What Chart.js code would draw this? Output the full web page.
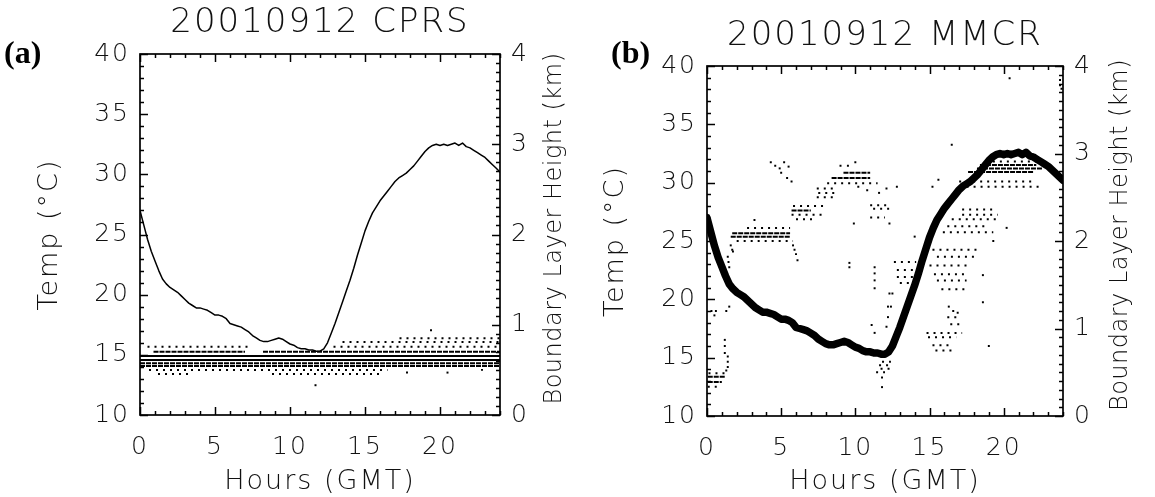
<!DOCTYPE html>
<html>
<head>
<meta charset="utf-8">
<script src="https://cdn.jsdelivr.net/npm/chart.js@4.4.1/dist/chart.umd.min.js"></script>
<style>
  html, body { margin: 0; padding: 0; background: #fff; }
  #wrap { position: relative; width: 1155px; height: 497px; }
  .pane { position: absolute; top: 0; height: 497px; }
</style>
</head>
<body>
<div id="wrap">
  <div class="pane" style="left:0;width:577px"><canvas id="cprs" width="577" height="497"></canvas></div>
  <div class="pane" style="left:577px;width:578px"><canvas id="mmcr" width="578" height="497"></canvas></div>
</div>
<script>
// surface temperature, read every 15 minutes
var hours = [0, 0.25, 0.5, 0.75, 1, 1.25, 1.5, 1.75, 2, 2.25, 2.5, 2.75, 3, 3.25, 3.5, 3.75,
  4, 4.25, 4.5, 4.75, 5, 5.25, 5.5, 5.75, 6, 6.25, 6.5, 6.75, 7, 7.25, 7.5, 7.75,
  8, 8.25, 8.5, 8.75, 9, 9.25, 9.5, 9.75, 10, 10.25, 10.5, 10.75, 11, 11.25, 11.5, 11.75,
  12, 12.25, 12.5, 12.75, 13, 13.25, 13.5, 13.75, 14, 14.25, 14.5, 14.75, 15, 15.25, 15.5, 15.75,
  16, 16.25, 16.5, 16.75, 17, 17.25, 17.5, 17.75, 18, 18.25, 18.5, 18.75, 19, 19.25, 19.5, 19.75,
  20, 20.25, 20.5, 20.75, 21, 21.25, 21.5, 21.75, 22, 22.25, 22.5, 22.75, 23, 23.25, 23.5, 23.75, 24];
var tempC = [27.0, 25.8, 24.6, 23.6, 22.8, 22.0, 21.3, 20.9, 20.6, 20.4, 20.2, 19.9, 19.6, 19.3, 19.1, 18.9,
  18.9, 18.8, 18.7, 18.5, 18.3, 18.3, 18.2, 18.0, 17.6, 17.5, 17.4, 17.3, 17.1, 16.9, 16.6, 16.4,
  16.2, 16.1, 16.1, 16.2, 16.3, 16.4, 16.3, 16.1, 15.9, 15.8, 15.6, 15.5, 15.5, 15.4, 15.4, 15.3,
  15.3, 15.5, 16.0, 16.8, 17.6, 18.5, 19.4, 20.3, 21.2, 22.2, 23.3, 24.3, 25.3, 26.1, 26.8, 27.3,
  27.8, 28.2, 28.6, 29.0, 29.4, 29.7, 29.9, 30.1, 30.4, 30.7, 31.1, 31.5, 31.9, 32.2, 32.4, 32.5,
  32.4, 32.5, 32.4, 32.5, 32.6, 32.4, 32.6, 32.3, 32.2, 32.0, 31.8, 31.6, 31.4, 31.1, 30.8, 30.5, 30.2];

// boundary layer height returns, [start hour, end hour, km] for rows of range gates
var cprsSolid = [[0, 24, 0.61], [0, 24, 0.655]];
var cprsDense = [[0, 24, 0.573], [0.9, 7.0, 0.70], [8.2, 24, 0.70], [0, 24, 0.543]];
var cprsSparse = [[0.5, 7.2, 0.757], [12.9, 24, 0.757], [0.6, 16.5, 0.50], [8.8, 16.2, 0.455],
  [1.2, 3.5, 0.455], [13.5, 24, 0.81], [17.3, 24, 0.85]];
var cprsDots = [[11.7, 0.33], [19.4, 0.94], [17.8, 0.47], [20.5, 0.47], [22.8, 0.50]];

var mmcrSolid = [];
var mmcrDense = [[1.7, 5.6, 2.09], [1.6, 5.6, 2.05], [18.4, 22.2, 2.87], [18.2, 22.6, 2.83],
  [17.6, 22.0, 2.79], [0.05, 1.2, 0.45], [0.05, 1.0, 0.39], [5.7, 7.0, 2.35], [8.4, 11.0, 2.72],
  [9.2, 11.0, 2.78]];
var mmcrSparse = [[2.7, 5.6, 2.15], [2.0, 5.8, 2.0], [0.1, 1.2, 0.49], [0.05, 0.9, 0.335],
  [5.8, 8.0, 2.40], [5.7, 7.8, 2.30], [6.0, 7.4, 2.25], [7.4, 8.8, 2.6], [7.5, 8.8, 2.55],
  [7.4, 8.6, 2.5], [8.1, 11.5, 2.66], [11.0, 12.3, 2.41], [11.2, 12.3, 2.37], [11.0, 12.0, 2.27],
  [17.0, 22.0, 2.68], [17.5, 22.5, 2.62], [18.8, 22.5, 2.91], [17.2, 19.3, 2.36], [17.2, 19.6, 2.30],
  [16.5, 19.6, 2.25], [16.2, 18.9, 2.17], [15.9, 19.3, 2.10], [12.6, 14.1, 1.76], [12.8, 14.1, 1.67],
  [12.8, 14.0, 1.59], [13.0, 14.4, 1.52], [15.2, 18.4, 1.9], [15.5, 18.0, 1.82], [15.0, 17.8, 1.72],
  [15.3, 17.6, 1.62], [15.5, 17.5, 1.55], [15.8, 17.5, 1.45], [14.8, 17.2, 0.95], [14.9, 16.8, 0.90],
  [15.2, 16.6, 0.81], [15.4, 16.6, 0.75], [11.8, 12.4, 0.62], [11.6, 12.5, 0.58], [11.7, 12.5, 0.54],
  [11.4, 12.0, 0.50], [16.2, 17.0, 1.13], [16.4, 17.2, 1.05]];
var mmcrDots = [[4.3, 2.90], [4.6, 2.86], [4.9, 2.83], [5.2, 2.9], [5.5, 2.85], [5.0, 2.78], [5.4, 2.72],
  [5.7, 2.68], [3.2, 2.24], [1.6, 1.95], [1.7, 1.9], [1.75, 1.88], [1.4, 1.82], [1.45, 1.76], [1.5, 1.7],
  [5.8, 1.95], [5.9, 1.9], [6.0, 1.85], [6.1, 1.78], [9.6, 1.75], [9.6, 1.70], [11.3, 1.70], [11.3, 1.63],
  [11.3, 1.55], [11.3, 1.46], [11.1, 1.04], [11.3, 0.95], [10.2, 2.62], [10.8, 2.58], [11.6, 2.55],
  [12.1, 2.6], [12.8, 2.62], [9.9, 2.2], [12.3, 2.2], [14.0, 2.05], [16.5, 3.1], [20.2, 2.15], [19.3, 2.0],
  [18.6, 1.61], [18.6, 1.3], [19.0, 0.8], [0.3, 1.2], [0.5, 1.15], [0.6, 1.2], [1.3, 1.2], [1.5, 1.25],
  [1.2, 0.87], [1.2, 0.8], [1.2, 0.72], [1.4, 0.68], [1.4, 0.62], [1.4, 0.56], [1.3, 0.52], [11.8, 0.44],
  [11.8, 0.33], [12.3, 1.4], [12.5, 1.4], [12.2, 1.25], [12.4, 1.25], [12.2, 1.13], [12.1, 1.02],
  [16.3, 1.25], [16.6, 1.2], [16.9, 1.18], [20.4, 3.86], [23.8, 3.84], [23.8, 3.78], [23.9, 3.74],
  [9.0, 2.86], [9.5, 2.86], [10.0, 2.9], [15.2, 2.62], [15.6, 2.7]];

var hourTicks = [0, 5, 10, 15, 20];
var tempTicks = [10, 15, 20, 25, 30, 35, 40];
var heightTicks = [0, 1, 2, 3, 4];

Chart.defaults.font.family = '"DejaVu Sans", sans-serif';
Chart.defaults.font.weight = '200';
Chart.defaults.color = '#111';

var tempPoints = hours.map(function (h, i) { return {x: h, y: tempC[i]}; });

function rowPoints(rows) {
  var pts = [];
  rows.forEach(function (r) {
    pts.push({x: r[0], y: r[2]}, {x: r[1], y: r[2]}, {x: r[1], y: null});
  });
  return pts;
}

function rowSet(rows, dash) {
  return {data: rowPoints(rows), yAxisID: 'y2', borderColor: '#000', borderWidth: 2,
    borderDash: dash, pointRadius: 0, spanGaps: false, borderCapStyle: 'butt'};
}

function tick(ctx, x1, y1, x2, y2) {
  ctx.beginPath();
  ctx.moveTo(x1, y1);
  ctx.lineTo(x2, y2);
  ctx.stroke();
}

// inward tick marks, plot frame, right axis title and panel letter
var panelDecor = {
  id: 'panelDecor',
  beforeDraw: function (chart) {
    chart.ctx.letterSpacing = '2px';
  },
  afterDraw: function (chart, args, opts) {
    var ctx = chart.ctx, a = chart.chartArea;
    var sx = chart.scales.x, sy = chart.scales.y, sk = chart.scales.y2;
    var i, p, len;
    ctx.save();
    ctx.strokeStyle = '#000';
    ctx.lineWidth = 1.5;
    ctx.setLineDash([]);
    for (i = 0; i <= 24; i++) {
      p = Math.round(sx.getPixelForValue(i)) + 0.5;
      len = i % 5 === 0 ? 8 : 4;
      tick(ctx, p, a.bottom, p, a.bottom - len);
      tick(ctx, p, a.top, p, a.top + len);
    }
    for (i = 10; i <= 40; i++) {
      p = Math.round(sy.getPixelForValue(i)) + 0.5;
      len = i % 5 === 0 ? 8 : 4;
      tick(ctx, a.left, p, a.left + len, p);
    }
    for (i = 0; i <= 40; i++) {
      p = Math.round(sk.getPixelForValue(i / 10)) + 0.5;
      len = i % 10 === 0 ? 8 : 4;
      tick(ctx, a.right, p, a.right - len, p);
    }
    ctx.lineWidth = 1.7;
    ctx.strokeRect(a.left, a.top, a.right - a.left, a.bottom - a.top);
    ctx.restore();

    ctx.save();
    ctx.fillStyle = '#111';
    ctx.letterSpacing = '0.5px';
    ctx.font = '200 24px "DejaVu Sans"';
    ctx.textAlign = 'center';
    ctx.textBaseline = 'middle';
    ctx.translate(a.right + opts.rightTitleOffset, (a.top + a.bottom) / 2 - 6);
    ctx.rotate(-Math.PI / 2);
    ctx.fillText(opts.rightTitle, 0, 0);
    ctx.restore();

    ctx.save();
    ctx.fillStyle = '#000';
    ctx.letterSpacing = '0px';
    ctx.font = 'bold 32px "Liberation Serif"';
    ctx.textAlign = 'left';
    ctx.textBaseline = 'alphabetic';
    ctx.fillText(opts.letter, opts.letterX, opts.letterY);
    ctx.restore();
  }
};

function makeChart(id, p) {
  var datasets = [
    {data: tempPoints, yAxisID: 'y', borderColor: '#000', borderWidth: p.tempWidth, pointRadius: 0,
      borderJoinStyle: 'round', borderCapStyle: 'round'},
    rowSet(p.solid, []),
    rowSet(p.dense, [5, 1]),
    rowSet(p.sparse, [2, 5]),
    {data: p.dots.map(function (d) { return {x: d[0], y: d[1]}; }), yAxisID: 'y2', showLine: false,
      pointStyle: 'rect', pointRadius: 1.4, pointBackgroundColor: '#000', pointBorderWidth: 0}
  ];
  var noGrid = {display: false, drawTicks: false};
  return new Chart(document.getElementById(id), {
    type: 'line',
    data: {datasets: datasets},
    options: {
      responsive: false,
      animation: false,
      events: [],
      layout: {padding: 0},
      plugins: {
        legend: {display: false},
        tooltip: {enabled: false},
        panelDecor: {letter: p.letter, letterX: p.letterX, letterY: 63,
          rightTitle: 'Boundary Layer Height (km)', rightTitleOffset: p.rightTitleOffset}
      },
      scales: {
        x: {
          type: 'linear', position: 'bottom', min: 0, max: 24,
          afterFit: function (s) { s.height = p.bottomH; },
          grid: noGrid, border: {display: false},
          afterBuildTicks: function (s) { s.ticks = hourTicks.map(function (v) { return {value: v}; }); },
          ticks: {padding: 17, font: {size: 25}, maxRotation: 0},
          title: {display: true, text: 'Hours (GMT)', font: {size: 27, lineHeight: 1}, padding: {top: 0, bottom: 1.5}}
        },
        xt: {
          type: 'linear', position: 'top', min: 0, max: 24,
          afterFit: function (s) { s.height = p.topH; },
          grid: noGrid, border: {display: false},
          ticks: {display: false},
          title: {display: true, text: p.title, font: {size: 34, lineHeight: 1.2}, padding: {top: p.titlePad, bottom: 0}}
        },
        y: {
          type: 'linear', position: 'left', min: 10, max: 40,
          afterFit: function (s) { s.width = p.leftW; },
          grid: noGrid, border: {display: false},
          afterBuildTicks: function (s) { s.ticks = tempTicks.map(function (v) { return {value: v}; }); },
          ticks: {padding: 10, font: {size: 25}},
          title: {display: true, text: 'Temp (°C)', font: {size: 27, lineHeight: 1.2}, padding: {top: p.leftTitlePad, bottom: 0}}
        },
        y2: {
          type: 'linear', position: 'right', min: 0, max: 4,
          afterFit: function (s) { s.width = p.rightW; },
          grid: noGrid, border: {display: false},
          afterBuildTicks: function (s) { s.ticks = heightTicks.map(function (v) { return {value: v}; }); },
          ticks: {padding: 11, font: {size: 25}}
        }
      }
    },
    plugins: [panelDecor]
  });
}

makeChart('cprs', {
  title: '20010912 CPRS', letter: '(a)', letterX: 4,
  solid: cprsSolid, dense: cprsDense, sparse: cprsSparse, dots: cprsDots, tempWidth: 1.5,
  topH: 54, titlePad: 3, bottomH: 82, leftW: 140, leftTitlePad: 34, rightW: 77, rightTitleOffset: 55
});

makeChart('mmcr', {
  title: '20010912 MMCR', letter: '(b)', letterX: 34,
  solid: mmcrSolid, dense: mmcrDense, sparse: mmcrSparse, dots: mmcrDots, tempWidth: 7.5,
  topH: 66, titlePad: 16, bottomH: 81, leftW: 130, leftTitlePad: 23, rightW: 92, rightTitleOffset: 58
});
</script>
</body>
</html>
